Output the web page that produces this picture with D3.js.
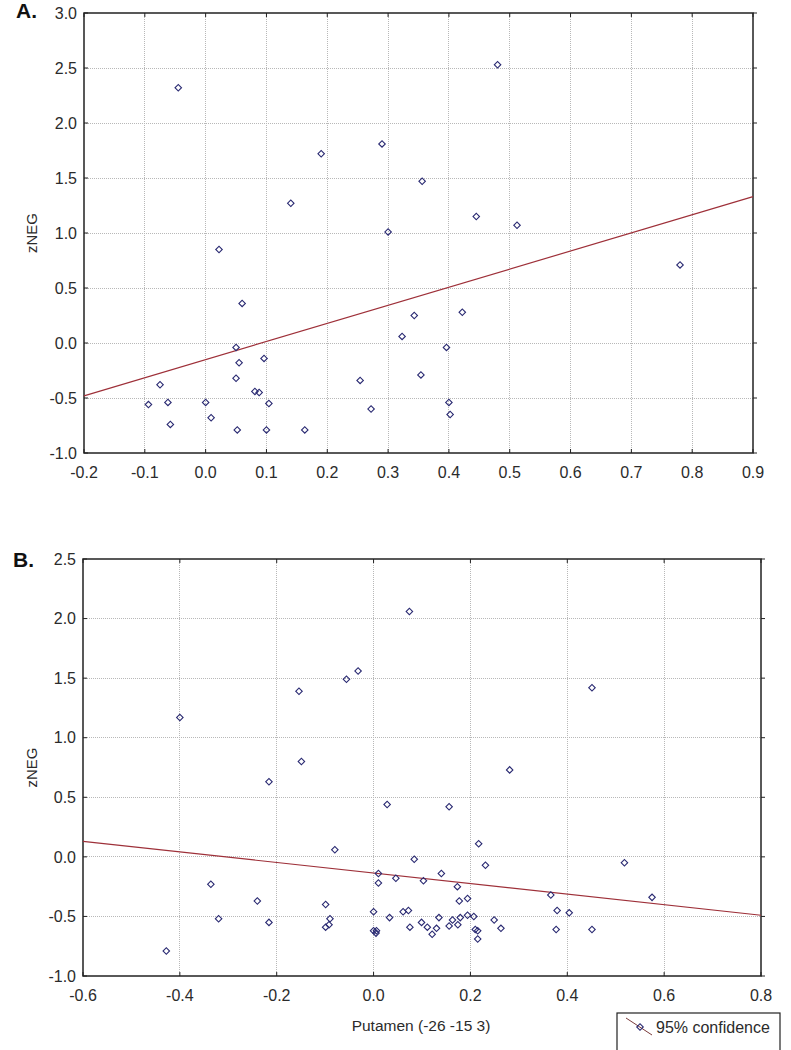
<!DOCTYPE html>
<head>
<title>zNEG vs Putamen</title>
<meta charset="utf-8">
<style>

body {
  margin: 0;
  background: #fff;
}

text {
  font-family: "Liberation Sans", Arial, sans-serif;
  fill: #2b2b2b;
}

.frame {
  fill: none;
  stroke: #222;
  stroke-width: 1.5px;
}

.grid line {
  stroke: #b8b8b8;
  stroke-dasharray: 1,1;
  shape-rendering: crispEdges;
}

.tick-mark {
  stroke: #222;
  stroke-width: 1px;
}

.fit {
  fill: none;
  stroke: #9e3039;
  stroke-width: 1.2px;
}

.dot {
  fill: none;
  stroke: #2a2a72;
  stroke-width: 1.1px;
}

</style>

<script src="https://d3js.org/d3.v7.min.js"></script>
</head>

<body>
<script type="text/javascript">
"use strict";

// ---- panel A data ----
var xA = [-0.045, 0.19, 0.29, 0.14, 0.30, 0.022, 0.48, 0.356, 0.445, 0.512,
          0.78, 0.343, 0.422, 0.323, 0.396, 0.354, 0.40, 0.402, 0.06, 0.05,
          0.055, 0.096, 0.05, -0.075, -0.094, -0.062, -0.058, 0.0, 0.009, 0.081,
          0.088, 0.104, 0.052, 0.10, 0.163, 0.254, 0.272];
var yA = [2.32, 1.72, 1.81, 1.27, 1.01, 0.85, 2.53, 1.47, 1.15, 1.07,
          0.71, 0.25, 0.28, 0.06, -0.04, -0.29, -0.54, -0.65, 0.36, -0.04,
          -0.18, -0.14, -0.32, -0.38, -0.56, -0.54, -0.74, -0.54, -0.68, -0.44,
          -0.45, -0.55, -0.79, -0.79, -0.79, -0.34, -0.60];
var fitXA = [-0.2, 0.9],
    fitYA = [-0.48, 1.33];
var xTicksA = [-0.2, -0.1, 0.0, 0.1, 0.2, 0.3, 0.4, 0.5, 0.6, 0.7, 0.8, 0.9];
var yTicksA = [-1.0, -0.5, 0.0, 0.5, 1.0, 1.5, 2.0, 2.5, 3.0];

// ---- panel B data ----
var xB = [-0.40, -0.154, -0.056, -0.032, 0.074, 0.451, -0.149, -0.216, 0.028, -0.08,
          0.01, 0.01, 0.046, -0.336, -0.24, -0.32, -0.216, -0.099, -0.09, -0.099,
          -0.092, 0.0, 0.033, 0.0, 0.006, 0.005, -0.428, 0.281, 0.156, 0.217,
          0.231, 0.084, 0.518, 0.14, 0.103, 0.173, 0.366, 0.575, 0.177, 0.194,
          0.379, 0.404, 0.061, 0.072, 0.075, 0.099, 0.111, 0.121, 0.13, 0.135,
          0.156, 0.163, 0.174, 0.179, 0.194, 0.207, 0.21, 0.215, 0.215, 0.249,
          0.263, 0.377, 0.451];
var yB = [1.17, 1.39, 1.49, 1.56, 2.06, 1.42, 0.80, 0.63, 0.44, 0.06,
          -0.14, -0.22, -0.18, -0.23, -0.37, -0.52, -0.55, -0.40, -0.52, -0.59,
          -0.57, -0.46, -0.51, -0.62, -0.62, -0.64, -0.79, 0.73, 0.42, 0.11,
          -0.07, -0.02, -0.05, -0.14, -0.20, -0.25, -0.32, -0.34, -0.37, -0.35,
          -0.45, -0.47, -0.46, -0.45, -0.59, -0.55, -0.59, -0.65, -0.60, -0.51,
          -0.58, -0.53, -0.57, -0.51, -0.49, -0.50, -0.61, -0.62, -0.69, -0.53,
          -0.60, -0.61, -0.61];
var fitXB = [-0.6, 0.8],
    fitYB = [0.13, -0.49];
var xTicksB = [-0.6, -0.4, -0.2, 0.0, 0.2, 0.4, 0.6, 0.8];
var yTicksB = [-1.0, -0.5, 0.0, 0.5, 1.0, 1.5, 2.0, 2.5];

var yTitle = "zNEG",
    xTitleB = "Putamen (-26 -15 3)",
    legendText = "95% confidence";

var svg = d3.select("body").append("svg")
    .attr("width", 791)
    .attr("height", 1050);

var fmt = function(d) { return d.toFixed(1); };
var diamond = d3.symbol().type(d3.symbolSquare).size(21);

function panel(p) {
  var x = d3.scaleLinear().domain(d3.extent(p.xTicks)).range([p.left, p.right]);
  var y = d3.scaleLinear().domain(d3.extent(p.yTicks)).range([p.bottom, p.top]);
  var g = svg.append("g");

  // dotted grid, inner lines only
  var grid = g.append("g").attr("class", "grid");
  grid.selectAll(".gx")
      .data(p.xTicks.slice(1, -1))
    .enter().append("line")
      .attr("x1", x).attr("x2", x)
      .attr("y1", p.top).attr("y2", p.bottom);
  grid.selectAll(".gy")
      .data(p.yTicks.slice(1, -1))
    .enter().append("line")
      .attr("y1", y).attr("y2", y)
      .attr("x1", p.left).attr("x2", p.right);

  // small tick marks on all four sides
  var tk = g.append("g");
  p.xTicks.forEach(function(d) {
    tk.append("line").attr("class", "tick-mark")
        .attr("x1", x(d)).attr("x2", x(d)).attr("y1", p.bottom).attr("y2", p.bottom - 4);
    tk.append("line").attr("class", "tick-mark")
        .attr("x1", x(d)).attr("x2", x(d)).attr("y1", p.top).attr("y2", p.top + 4);
  });
  p.yTicks.forEach(function(d) {
    tk.append("line").attr("class", "tick-mark")
        .attr("y1", y(d)).attr("y2", y(d)).attr("x1", p.left).attr("x2", p.left + 4);
    tk.append("line").attr("class", "tick-mark")
        .attr("y1", y(d)).attr("y2", y(d)).attr("x1", p.right).attr("x2", p.right + 4);
  });

  g.append("rect")
      .attr("class", "frame")
      .attr("x", p.left).attr("y", p.top)
      .attr("width", p.right - p.left).attr("height", p.bottom - p.top);

  g.selectAll(".xl")
      .data(p.xTicks)
    .enter().append("text")
      .attr("x", x)
      .attr("y", p.bottom + 25)
      .attr("text-anchor", "middle")
      .style("font-size", "16px")
      .text(fmt);

  g.selectAll(".yl")
      .data(p.yTicks)
    .enter().append("text")
      .attr("x", p.left - 7)
      .attr("y", y)
      .attr("dy", "0.36em")
      .attr("text-anchor", "end")
      .style("font-size", "16px")
      .text(fmt);

  g.append("text")
      .attr("transform", "translate(37," + ((p.top + p.bottom) / 2) + ") rotate(-90)")
      .attr("text-anchor", "middle")
      .style("font-size", "15px")
      .text(yTitle);

  g.append("text")
      .attr("x", p.labelX).attr("y", p.labelY)
      .style("font-size", "21px")
      .style("font-weight", "bold")
      .style("fill", "#111")
      .text(p.label);

  // regression line
  g.append("path")
      .datum(d3.zip(p.fitX, p.fitY))
      .attr("class", "fit")
      .attr("d", d3.line()
          .x(function(d) { return x(d[0]); })
          .y(function(d) { return y(d[1]); }));

  g.selectAll(".dot")
      .data(d3.zip(p.xs, p.ys))
    .enter().append("path")
      .attr("class", "dot")
      .attr("d", diamond)
      .attr("transform", function(d) {
        return "translate(" + x(d[0]) + "," + y(d[1]) + ") rotate(45)";
      });

  return {x: x, y: y};
}

panel({xs: xA, ys: yA, fitX: fitXA, fitY: fitYA, xTicks: xTicksA, yTicks: yTicksA,
       left: 84, right: 753, top: 13, bottom: 453, label: "A.", labelX: 16, labelY: 18});

panel({xs: xB, ys: yB, fitX: fitXB, fitY: fitYB, xTicks: xTicksB, yTicks: yTicksB,
       left: 83, right: 761, top: 559, bottom: 976, label: "B.", labelX: 13, labelY: 567});

svg.append("text")
    .attr("x", 421)
    .attr("y", 1031)
    .attr("text-anchor", "middle")
    .style("font-size", "15.5px")
    .text(xTitleB);

// legend box, runs off the bottom of the picture
var lg = svg.append("g").attr("transform", "translate(617,1013)");
lg.append("rect")
    .attr("width", 163).attr("height", 60)
    .attr("fill", "#fff").attr("stroke", "#222").attr("stroke-width", 1.2);
lg.append("line")
    .attr("x1", 9).attr("y1", 5).attr("x2", 35).attr("y2", 22)
    .attr("stroke", "#7a3a3a").attr("stroke-width", 1);
lg.append("path")
    .attr("class", "dot")
    .attr("d", diamond)
    .attr("transform", "translate(23,14) rotate(45)");
lg.append("text")
    .attr("x", 39).attr("y", 20)
    .style("font-size", "16px")
    .text(legendText);

</script>
</body>
